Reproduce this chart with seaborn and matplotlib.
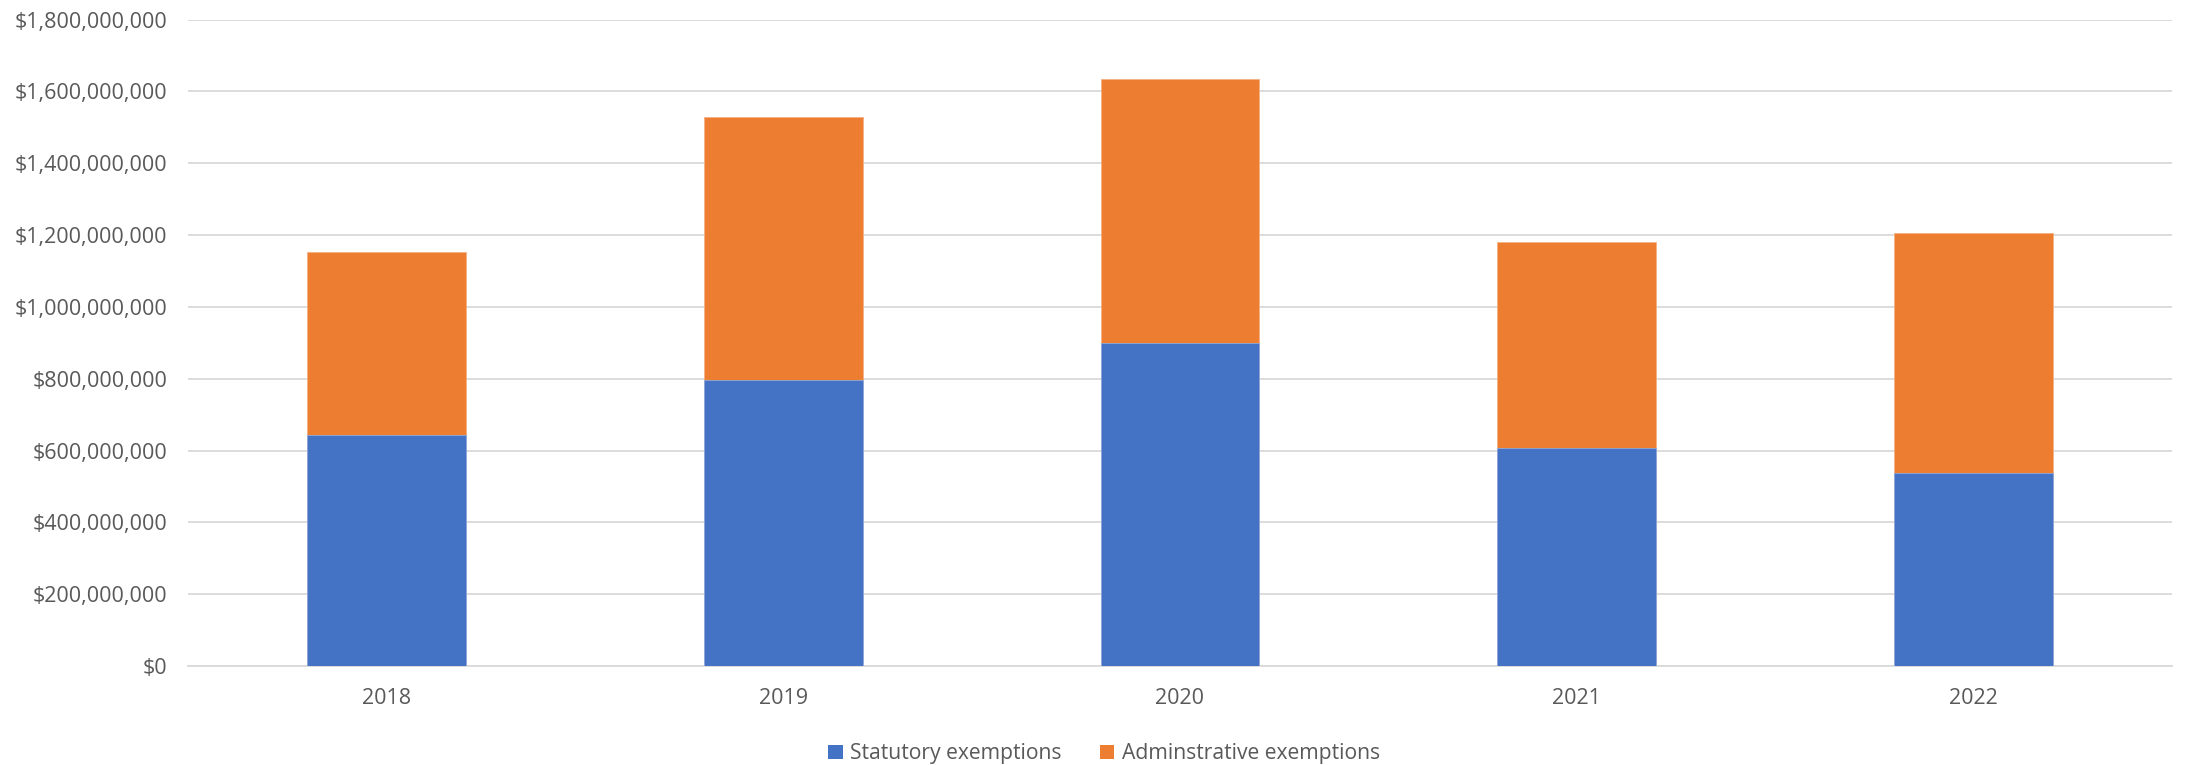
import matplotlib
matplotlib.use("Agg")
import matplotlib.pyplot as plt
import matplotlib.ticker as mticker
from matplotlib.patches import Patch
import seaborn as sns
import pandas as pd

years = ["2018", "2019", "2020", "2021", "2022"]
statutory = [642e6, 795e6, 898e6, 607e6, 538e6]
administrative = [512e6, 733e6, 735e6, 574e6, 667e6]
series_names = ["Statutory exemptions", "Adminstrative exemptions"]
colors = ["#4472C4", "#ED7D31"]

sns.set_theme(style="white")
plt.rcParams["font.family"] = ["Open Sans", "DejaVu Sans"]

df = pd.DataFrame({"year": years, "statutory": statutory, "administrative": administrative})
df["total"] = df["statutory"] + df["administrative"]

fig = plt.figure(figsize=(21.86, 7.65), dpi=100)
ax = fig.add_axes([188 / 2186, 1 - 666 / 765, (2172 - 188) / 2186, (666 - 19.5) / 765])

sns.barplot(data=df, x="year", y="total", color=colors[1], width=0.4, saturation=1, ax=ax,
            zorder=2, linewidth=0.6, edgecolor="#F4B183")
sns.barplot(data=df, x="year", y="statutory", color=colors[0], width=0.4, saturation=1, ax=ax,
            zorder=3, linewidth=0.6, edgecolor="#8FAADC")

ax.set_ylim(0, 1.8e9)
ax.set_xlim(-0.5, 4.5)
ax.yaxis.set_major_locator(mticker.MultipleLocator(2e8))
ax.yaxis.set_major_formatter(mticker.FuncFormatter(lambda v, p: "${:,.0f}".format(v)))
ax.grid(axis="y", color="#D9D9D9", linewidth=1.3, zorder=0)
ax.set_axisbelow(True)
for s in ["top", "right", "left"]:
    ax.spines[s].set_visible(False)
ax.spines["bottom"].set_color("#D9D9D9")
ax.spines["bottom"].set_linewidth(1.3)
ax.set_xlabel("")
ax.set_ylabel("")
ax.tick_params(axis="both", length=0, labelsize=15.5, labelcolor="#595959")
ax.tick_params(axis="y", pad=15)
ax.tick_params(axis="x", pad=16)

handles = [Patch(facecolor=c, edgecolor="none") for c in colors]
fig.legend(handles, series_names, loc="lower center", bbox_to_anchor=(0.505, -0.024), ncol=2,
           frameon=False, fontsize=15.2, labelcolor="#595959", handlelength=0.7, handleheight=0.7,
           columnspacing=1.8, handletextpad=0.35)

fig.savefig("out.png", dpi=100, facecolor="white")
